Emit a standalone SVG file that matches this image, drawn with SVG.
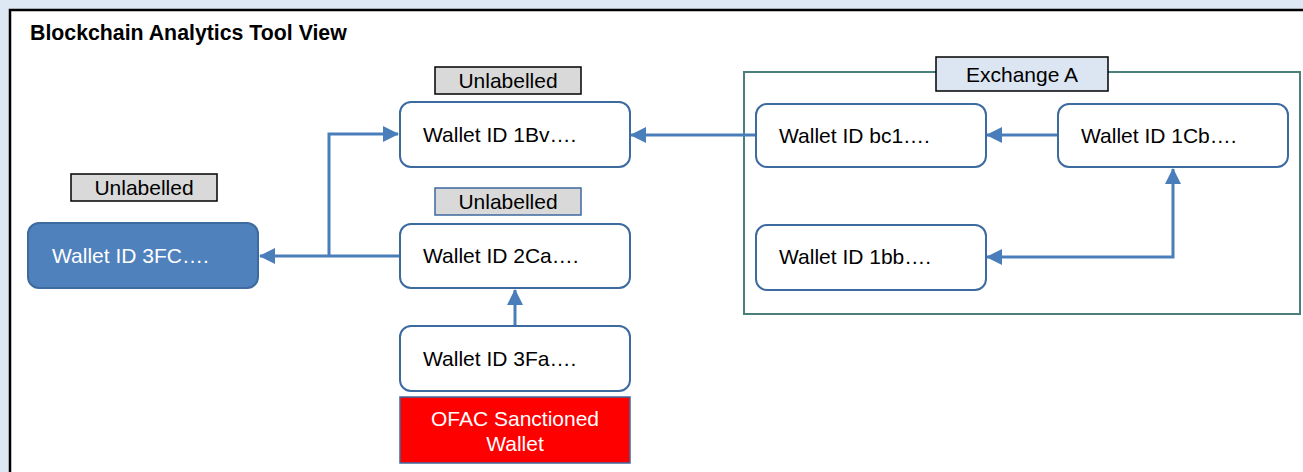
<svg xmlns="http://www.w3.org/2000/svg" width="1303" height="472" viewBox="0 0 1303 472">
<style>
text{font-family:"Liberation Sans",Arial,sans-serif;font-size:21px;fill:#000}
.title{font-weight:bold;font-size:21.3px}
.node{fill:#fff;stroke:#3d6a9f;stroke-width:2}
.tag{fill:#d9d9d9;stroke:#000;stroke-width:1.5}
.tagb{fill:#d9d9d9;stroke:#3d6a9f;stroke-width:1.5}
.c{text-anchor:middle}
.conn{fill:none;stroke:#4a7ebb;stroke-width:3}
</style>
<defs>
<marker id="ah" markerUnits="userSpaceOnUse" markerWidth="16" markerHeight="16" viewBox="0 0 16 16" refX="15" refY="8" orient="auto-start-reverse">
<path d="M0,0 L16,8 L0,16 z" fill="#4a7ebb"/>
</marker>
</defs>
<rect x="0" y="0" width="1303" height="472" fill="#dde8f4"/>
<rect x="10" y="10" width="1310" height="480" fill="#fff" stroke="#000" stroke-width="2.5"/>
<text class="title" x="30" y="40">Blockchain Analytics Tool View</text>

<g id="exchange">
<rect x="744" y="72" width="556" height="242" fill="none" stroke="#4a7f7c" stroke-width="2"/>
<rect x="936" y="57" width="172" height="34" fill="#dce6f2" stroke="#000" stroke-width="1.5"/>
<text class="c" x="1022" y="81.5">Exchange A</text>
</g>

<g id="connectors">
<path class="conn" d="M400,256 L260,256" marker-end="url(#ah)"/>
<path class="conn" d="M329,256 L329,134 L398,134" marker-end="url(#ah)"/>
<path class="conn" d="M756,135 L631,135" marker-end="url(#ah)"/>
<path class="conn" d="M1058,135 L987,135" marker-end="url(#ah)"/>
<path class="conn" d="M987,257 L1173,257 L1173,169" marker-start="url(#ah)" marker-end="url(#ah)"/>
<path class="conn" d="M515,326 L515,290" marker-end="url(#ah)"/>
</g>

<g id="tag-1bv">
<rect class="tag" x="435" y="67" width="146" height="27"/>
<text class="c" x="508" y="88">Unlabelled</text>
</g>
<g id="node-1bv">
<rect class="node" x="400" y="102" width="230" height="65" rx="11"/>
<text x="423" y="142">Wallet ID 1Bv….</text>
</g>

<g id="tag-3fc">
<rect class="tag" x="71" y="174" width="146" height="27"/>
<text class="c" x="144" y="195">Unlabelled</text>
</g>
<g id="node-3fc">
<rect x="28" y="223" width="230" height="65" rx="11" fill="#4f81bd" stroke="#3d6a9f" stroke-width="2"/>
<text x="52" y="263" style="fill:#fff">Wallet ID 3FC….</text>
</g>

<g id="tag-2ca">
<rect class="tagb" x="435" y="188" width="146" height="27"/>
<text class="c" x="508" y="209">Unlabelled</text>
</g>
<g id="node-2ca">
<rect class="node" x="400" y="224" width="230" height="64" rx="11"/>
<text x="423" y="263">Wallet ID 2Ca….</text>
</g>

<g id="node-3fa">
<rect class="node" x="400" y="326" width="230" height="65" rx="11"/>
<text x="423" y="366">Wallet ID 3Fa….</text>
</g>

<g id="ofac">
<rect x="400" y="397" width="230" height="66" fill="#ff0000" stroke="#3d6a9f" stroke-width="1.5"/>
<text class="c" x="515" y="426" style="fill:#fff">OFAC Sanctioned</text>
<text class="c" x="515" y="451" style="fill:#fff">Wallet</text>
</g>

<g id="node-bc1">
<rect class="node" x="756" y="104" width="230" height="63" rx="11"/>
<text x="779" y="143">Wallet ID bc1….</text>
</g>

<g id="node-1cb">
<rect class="node" x="1058" y="104" width="230" height="63" rx="11"/>
<text x="1081" y="143">Wallet ID 1Cb….</text>
</g>

<g id="node-1bb">
<rect class="node" x="756" y="225" width="230" height="65" rx="11"/>
<text x="779" y="264">Wallet ID 1bb….</text>
</g>
</svg>
